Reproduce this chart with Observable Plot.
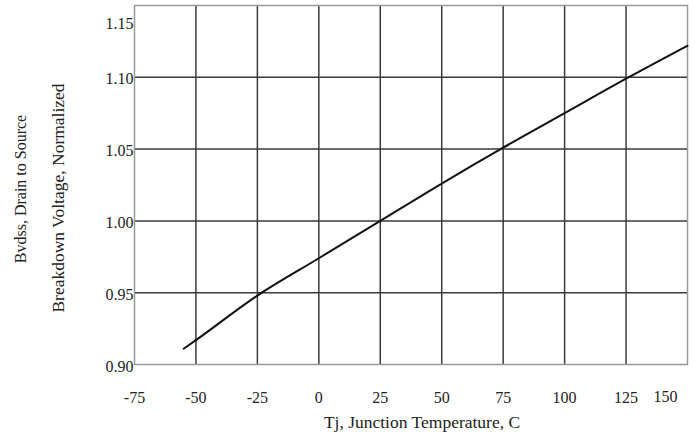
<!DOCTYPE html>
<html>
<head>
<meta charset="utf-8">
<script src="https://cdn.jsdelivr.net/npm/d3@7"></script>
<script src="https://cdn.jsdelivr.net/npm/@observablehq/plot@0.6"></script>
<style>
  html, body { margin: 0; padding: 0; background: #fff; }
  svg { display: block; }
</style>
</head>
<body>
<div id="chart"></div>
<script>
// Tj, junction temperature (°C)
const temperature = [-55, -50, -25, 0, 25, 50, 75, 100, 125, 150];
// Normalized drain-to-source breakdown voltage
const bvdss = [0.911, 0.917, 0.948, 0.974, 1.000, 1.026, 1.051, 1.075, 1.099, 1.122];
// Tick labels
const xTicks = [-75, -50, -25, 0, 25, 50, 75, 100, 125, 150];
const yTicks = [0.90, 0.95, 1.00, 1.05, 1.10, 1.15];

const data = temperature.map((t, i) => ({t, v: bvdss[i]}));
const font = "'Liberation Serif', 'DejaVu Serif', serif";

const chart = Plot.plot({
  width: 695,
  height: 448,
  marginLeft: 134,
  marginRight: 8,
  marginTop: 5,
  marginBottom: 84,
  style: {fontFamily: font, fontSize: "16px", color: "#222", background: "#fff"},
  x: {domain: [-75, 150]},
  y: {domain: [0.90, 1.15]},
  marks: [
    Plot.ruleX(xTicks.slice(1, -1), {stroke: "#3a3a3a", strokeWidth: 1.5}),
    Plot.ruleY(yTicks.slice(1, -1), {stroke: "#3a3a3a", strokeWidth: 1.5}),
    Plot.frame({stroke: "#999", strokeWidth: 1.5}),
    Plot.line(data, {x: "t", y: "v", stroke: "#111", strokeWidth: 2, curve: "monotone-x"}),
    Plot.axisX(xTicks.slice(0, -1), {tickSize: 0, tickPadding: 27, label: null, fontSize: 16, tickFormat: d => String(d)}),
    Plot.text(xTicks.slice(-1), {x: d => d, frameAnchor: "bottom", dy: 37, dx: -22, fontSize: 16, fill: "#222"}),
    Plot.axisY(yTicks.slice(0, -1), {tickSize: 0, tickPadding: 1, label: null, fontSize: 16, dy: 2, tickFormat: d => d.toFixed(2)}),
    Plot.text(yTicks.slice(-1), {y: d => d, frameAnchor: "left", textAnchor: "end", dx: -1, dy: 18, fontSize: 16, fill: "#222", text: d => d.toFixed(2)}),
    Plot.text(["Tj, Junction Temperature, C"], {frameAnchor: "bottom", dy: 63, dx: 11, fontSize: 17.5, fill: "#222"}),
    Plot.text(["Bvdss, Drain to Source"], {frameAnchor: "left", textAnchor: "middle", dx: -114, dy: 4, rotate: -90, fontSize: 16, fill: "#222"}),
    Plot.text(["Breakdown Voltage, Normalized"], {frameAnchor: "left", textAnchor: "middle", dx: -76, dy: 13, rotate: -90, fontSize: 17.5, fill: "#222"})
  ]
});
document.getElementById("chart").append(chart);
</script>
</body>
</html>
